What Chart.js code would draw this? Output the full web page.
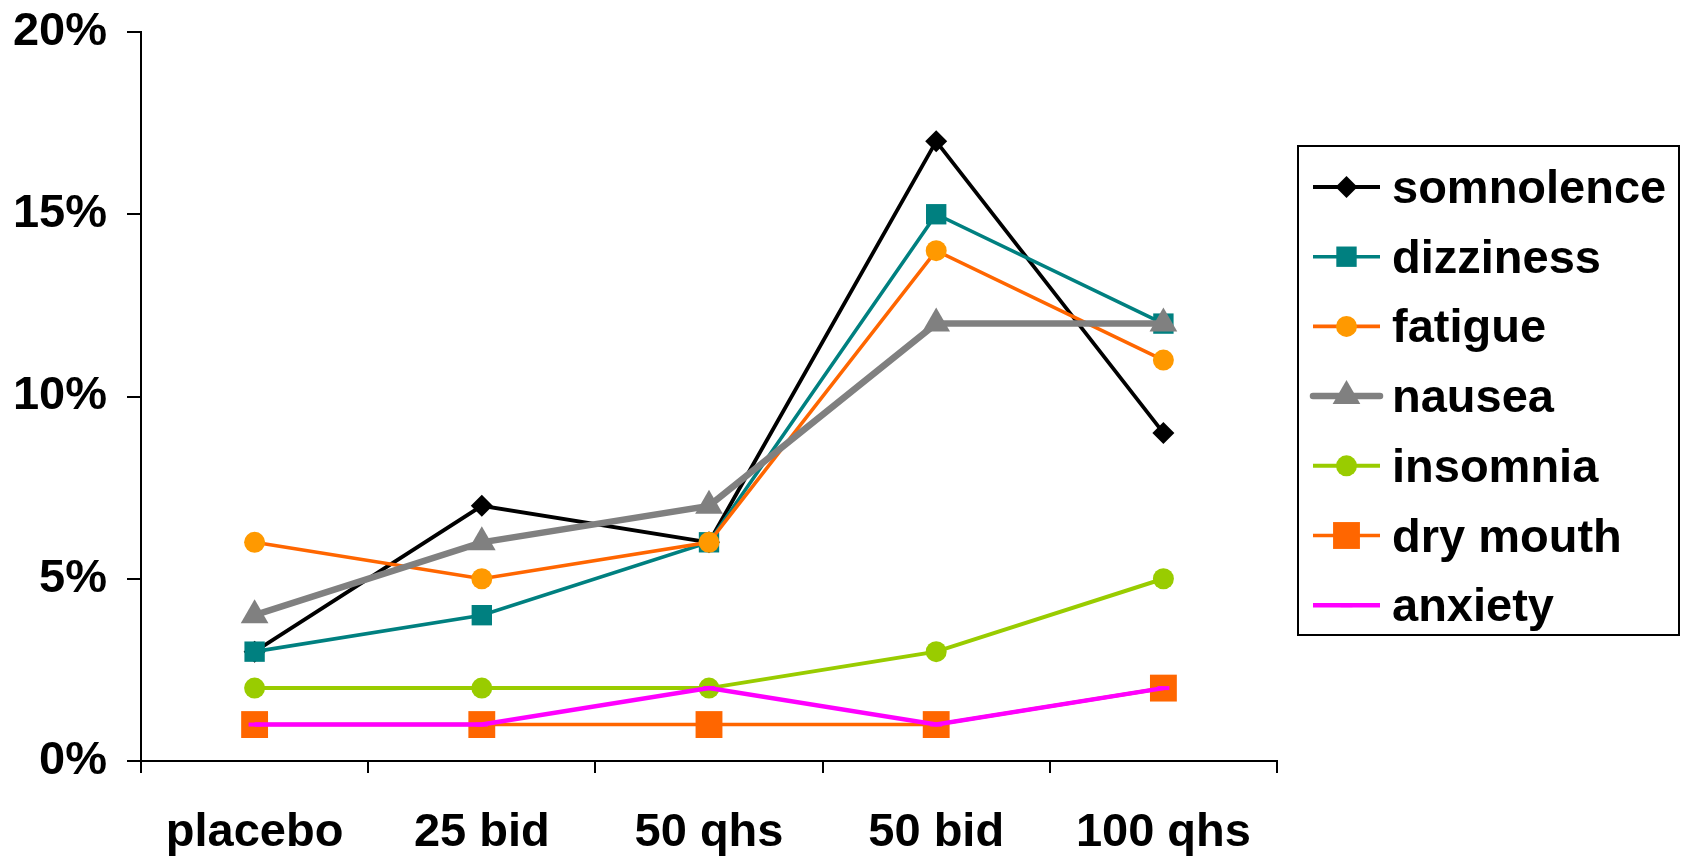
<!DOCTYPE html>
<html>
<head>
<meta charset="utf-8">
<script src="https://cdn.jsdelivr.net/npm/chart.js@4/dist/chart.umd.min.js"></script>
<style>
  html, body { margin: 0; padding: 0; background: #fff; }
  #wrap { width: 1683px; height: 859px; }
</style>
</head>
<body>
<div id="wrap"><canvas id="c" width="1683" height="859"></canvas></div>
<script>
// Dose groups along the x axis
const categories = ['placebo', '25 bid', '50 qhs', '50 bid', '100 qhs'];

// Incidence of each adverse event, in percent
const somnolence = [3, 7, 6, 17, 9];
const dizziness  = [3, 4, 6, 15, 12];
const fatigue    = [6, 5, 6, 14, 11];
const nausea     = [4, 6, 7, 12, 12];
const insomnia   = [2, 2, 2, 3, 5];
const dryMouth   = [1, 1, 1, 1, 2];
const anxiety    = [1, 1, 2, 1, 2];

// Y axis ticks (percent)
const yTicks = [0, 5, 10, 15, 20];

const FONT = '"Liberation Sans", Arial, Helvetica, sans-serif';

const series = [
  { label: 'somnolence', data: somnolence, line: '#000000', fill: '#000000', width: 3.8, style: 'rectRot', r: 11 },
  { label: 'dizziness',  data: dizziness,  line: '#008080', fill: '#008080', width: 3.6, style: 'rect',    r: 14.4 },
  { label: 'fatigue',    data: fatigue,    line: '#FF6600', fill: '#FF9900', width: 3.6, style: 'circle',  r: 10.5 },
  { label: 'nausea',     data: nausea,     line: '#808080', fill: '#808080', width: 6.5, style: 'triangle', r: 16 },
  { label: 'insomnia',   data: insomnia,   line: '#99CC00', fill: '#99CC00', width: 4,   style: 'circle',  r: 10.5 },
  { label: 'dry mouth',  data: dryMouth,   line: '#FF6600', fill: '#FF6600', width: 3.6, style: 'rect',    r: 19 },
  { label: 'anxiety',    data: anxiety,    line: '#FF00FF', fill: '#FF00FF', width: 4.5, style: 'line',    r: 6 }
];

const datasets = series.map((s, i) => ({
  label: s.label,
  data: s.data,
  borderColor: s.line,
  backgroundColor: s.fill,
  borderWidth: s.width,
  pointStyle: s.style,
  pointRadius: s.r,
  pointHoverRadius: s.r,
  pointBackgroundColor: s.fill,
  pointBorderColor: s.style === 'line' ? s.line : s.fill,
  pointBorderWidth: s.style === 'line' ? 4 : 0,
  tension: 0,
  clip: false,
  // later series are painted on top of earlier ones
  order: series.length - i
}));

// Boxed legend on the right: line sample with its marker, then the name
const boxLegend = {
  id: 'boxLegend',
  afterDraw(chart) {
    const ctx = chart.ctx;
    const box = { x: 1298, y: 146, w: 381, h: 489 };
    ctx.save();
    ctx.strokeStyle = '#000';
    ctx.lineWidth = 2;
    ctx.strokeRect(box.x, box.y, box.w, box.h);
    const rowTop = 187, rowStep = 69.7;
    const x0 = 1313, x1 = 1380, xm = (x0 + x1) / 2;
    series.forEach((s, i) => {
      const y = rowTop + i * rowStep;
      ctx.beginPath();
      ctx.strokeStyle = s.line;
      ctx.lineWidth = s.width;
      ctx.lineCap = s.width > 5 ? 'round' : 'butt';
      ctx.moveTo(x0, y);
      ctx.lineTo(x1, y);
      ctx.stroke();
      ctx.lineCap = 'butt';
      ctx.fillStyle = s.fill;
      ctx.beginPath();
      const r = s.r;
      if (s.style === 'rectRot') {
        ctx.moveTo(xm, y - r); ctx.lineTo(xm + r, y); ctx.lineTo(xm, y + r); ctx.lineTo(xm - r, y);
        ctx.closePath(); ctx.fill();
      } else if (s.style === 'rect') {
        const h = Math.SQRT1_2 * r;
        ctx.rect(xm - h, y - h, 2 * h, 2 * h); ctx.fill();
      } else if (s.style === 'circle') {
        ctx.arc(xm, y, r, 0, Math.PI * 2); ctx.fill();
      } else if (s.style === 'triangle') {
        ctx.moveTo(xm, y - r);
        ctx.lineTo(xm + r * Math.sin(Math.PI / 3), y + r / 2);
        ctx.lineTo(xm - r * Math.sin(Math.PI / 3), y + r / 2);
        ctx.closePath(); ctx.fill();
      } else if (s.style === 'line') {
        ctx.strokeStyle = s.line; ctx.lineWidth = 4;
        ctx.moveTo(xm - r, y); ctx.lineTo(xm + r, y); ctx.stroke();
      }
      ctx.fillStyle = '#000';
      ctx.font = 'bold 47px ' + FONT;
      ctx.textAlign = 'left';
      ctx.textBaseline = 'alphabetic';
      ctx.fillText(s.label, 1392, y + 16);
    });
    ctx.restore();
  }
};

new Chart(document.getElementById('c'), {
  type: 'line',
  data: { labels: categories, datasets },
  options: {
    responsive: false,
    devicePixelRatio: 1,
    animation: false,
    events: [],
    layout: { padding: { top: 32, right: 406, left: 0, bottom: 0 } },
    plugins: { legend: { display: false }, tooltip: { enabled: false } },
    scales: {
      x: {
        type: 'category',
        offset: true,
        grid: { offset: true, drawOnChartArea: false, drawTicks: true, tickLength: 12, color: '#000', lineWidth: 2 },
        border: { color: '#000', width: 2 },
        ticks: { color: '#000', padding: 32, maxRotation: 0, autoSkip: false,
                 font: { family: FONT, size: 47, weight: 'bold' } },
        afterFit(scale) { scale.height = 98; }
      },
      y: {
        min: yTicks[0],
        max: yTicks[yTicks.length - 1],
        afterBuildTicks(scale) { scale.ticks = yTicks.map(v => ({ value: v })); },
        grid: { drawOnChartArea: false, drawTicks: true, tickLength: 14, color: '#000', lineWidth: 2 },
        border: { color: '#000', width: 2 },
        ticks: { color: '#000', padding: 20, callback: v => v + '%',
                 font: { family: FONT, size: 47, weight: 'bold' } },
        afterFit(scale) {
          scale.width = 141;
          scale.paddingTop = 0;
          scale.paddingBottom = 0;
        }
      }
    }
  },
  plugins: [boxLegend]
});
</script>
</body>
</html>
